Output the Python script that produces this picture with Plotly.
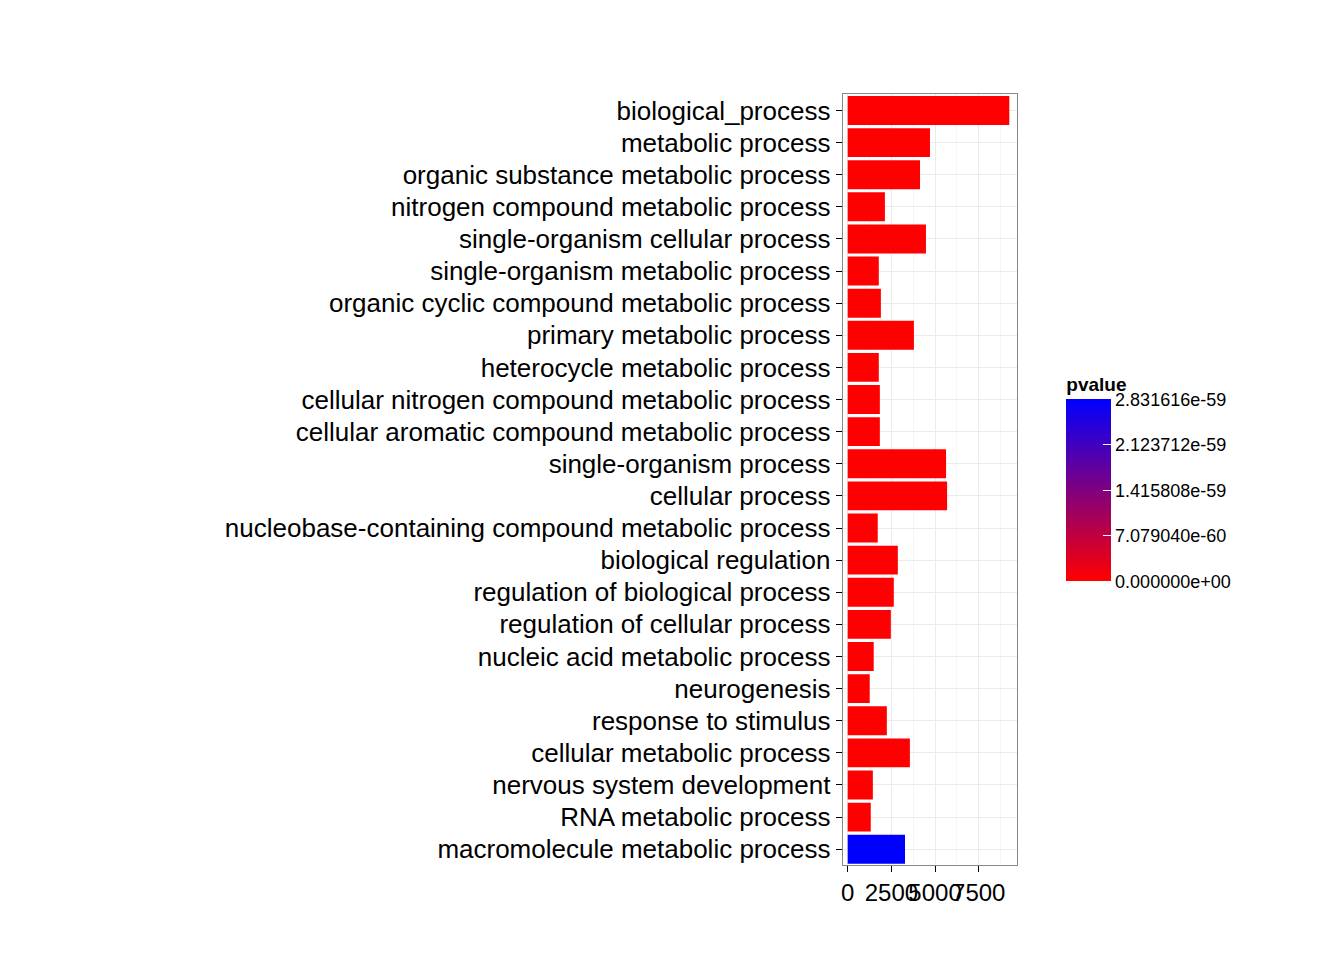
import plotly.graph_objects as go

terms = ["biological_process", "metabolic process", "organic substance metabolic process",
         "nitrogen compound metabolic process", "single-organism cellular process",
         "single-organism metabolic process", "organic cyclic compound metabolic process",
         "primary metabolic process", "heterocycle metabolic process",
         "cellular nitrogen compound metabolic process", "cellular aromatic compound metabolic process",
         "single-organism process", "cellular process",
         "nucleobase-containing compound metabolic process", "biological regulation",
         "regulation of biological process", "regulation of cellular process",
         "nucleic acid metabolic process", "neurogenesis", "response to stimulus",
         "cellular metabolic process", "nervous system development", "RNA metabolic process",
         "macromolecule metabolic process"]
counts = [9250, 4710, 4140, 2130, 4480, 1780, 1900, 3790, 1780, 1840, 1840, 5630, 5690,
          1720, 2870, 2640, 2470, 1490, 1260, 2240, 3560, 1440, 1320, 3280]
pvalues = [0] * 23 + [2.831616e-59]
cb_vals = [0, 7.07904e-60, 1.415808e-59, 2.123712e-59, 2.831616e-59]
cb_text = ["0.000000e+00", "7.079040e-60", "1.415808e-59", "2.123712e-59", "2.831616e-59"]

fig = go.Figure(go.Bar(
    x=counts, y=terms, orientation="h", width=0.9,
    marker=dict(color=pvalues, colorscale=[[0, "#ff0000"], [1, "#0000ff"]],
                cmin=0, cmax=2.831616e-59, line_width=0,
                colorbar=dict(title=dict(text="<b>pvalue</b>", font=dict(size=19)),
                              tickvals=cb_vals, ticktext=cb_text, ticks="inside",
                              tickcolor="white", ticklen=8,
                              x=0.78, xanchor="left", y=0.511, yanchor="middle",
                              lenmode="pixels", len=228, thickness=45, outlinewidth=0,
                              tickfont=dict(size=18))),
))
fig.update_layout(
    width=1344, height=960, plot_bgcolor="white", paper_bgcolor="white",
    font=dict(family="Liberation Sans, Arial", color="black"),
    margin=dict(l=0, r=0, t=0, b=0), showlegend=False, bargap=0.1,
    xaxis=dict(domain=[0.621, 0.751], range=[-290, 9710], tickvals=[0, 2500, 5000, 7500],
               tickangle=0, automargin=False,
               ticks="outside", ticklen=6, tickcolor="black", tickfont=dict(size=24),
               showgrid=True, gridcolor="#ebebeb", minor=dict(showgrid=True, gridcolor="#f5f5f5", dtick=1250),
               showline=True, linecolor="#888888", mirror=True, zeroline=False),
    yaxis=dict(domain=[0.107, 0.910], autorange="reversed", ticks="outside", ticklen=6,
               automargin=False,
               tickcolor="black", tickfont=dict(size=26), showgrid=True, gridcolor="#ebebeb",
               showline=True, linecolor="#888888", mirror=True),
)
fig.write_html("out.html")
